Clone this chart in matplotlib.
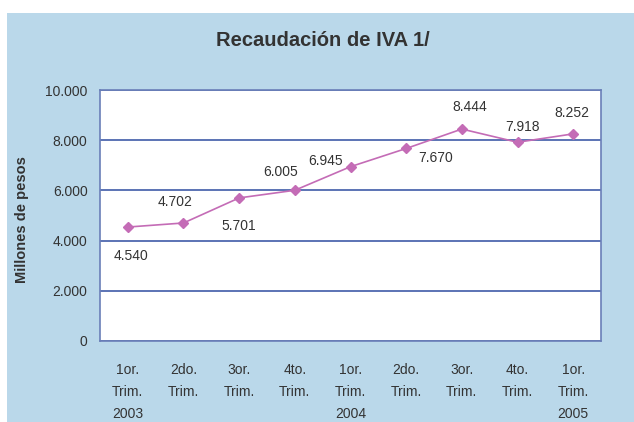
import matplotlib.pyplot as plt
from matplotlib.patches import Rectangle

# Data
trimestres = ['1or.\nTrim.\n2003', '2do.\nTrim.', '3or.\nTrim.', '4to.\nTrim.',
              '1or.\nTrim.\n2004', '2do.\nTrim.', '3or.\nTrim.', '4to.\nTrim.',
              '1or.\nTrim.\n2005']
recaudacion = [4540, 4702, 5701, 6005, 6945, 7670, 8444, 7918, 8252]
etiquetas = ['4.540', '4.702', '5.701', '6.005', '6.945', '7.670', '8.444', '7.918', '8.252']
y_ticks = [0, 2000, 4000, 6000, 8000, 10000]
y_ticklabels = ['0', '2.000', '4.000', '6.000', '8.000', '10.000']

# label offsets in pixels (dx, dy)
offsets = [(3, -29), (-8, 21), (0, -28), (-14, 18), (-25, 6),
           (29, -10), (8, 22), (5, 15), (-1, 21)]

plt.rcParams['font.family'] = ['Liberation Sans', 'DejaVu Sans']

fig = plt.figure(figsize=(6.34, 4.22), dpi=100)
fig.patch.set_facecolor('white')
fig.patches.append(Rectangle((7 / 634, 0), 1, 1 - 13 / 422, transform=fig.transFigure,
                             facecolor='#bad8ea', edgecolor='none', zorder=-5))

ax = fig.add_axes([100 / 634, 1 - 341 / 422, (601 - 100) / 634, (341 - 90) / 422])
ax.set_facecolor('white')

x = list(range(len(recaudacion)))
ax.plot(x, recaudacion, color='#c46cb6', lw=1.2, marker='D', markersize=5,
        markeredgecolor='#c46cb6', zorder=3)

for xi, yi, lab, (dx, dy) in zip(x, recaudacion, etiquetas, offsets):
    ax.annotate(lab, (xi, yi), xytext=(dx, dy), textcoords='offset pixels',
                ha='center', va='center', fontsize=10, color='#333333')

ax.set_xlim(-0.5, len(x) - 0.5)
ax.set_ylim(0, 10000)
ax.set_yticks(y_ticks)
ax.set_yticklabels(y_ticklabels)
ax.set_xticks(x)
ax.set_xticklabels(trimestres, linespacing=1.7, va='top')
ax.tick_params(axis='both', length=0, labelsize=10, labelcolor='#333333')
ax.tick_params(axis='x', pad=16)
ax.tick_params(axis='y', pad=9)
ax.grid(axis='y', color='#3f5ba8', lw=1.2)
ax.set_axisbelow(True)
for s in ax.spines.values():
    s.set_color('#6a7fb8')
    s.set_linewidth(1.2)

fig.text(323 / 634, 1 - 41 / 422, 'Recaudación de IVA 1/', ha='center', va='center',
         fontsize=14.5, fontweight='bold', color='#333333')
fig.text(22 / 634, 1 - 220 / 422, 'Millones de pesos', rotation=90, ha='center',
         va='center', fontsize=10.5, fontweight='bold', color='#333333')

fig.savefig('out.png', dpi=100)
